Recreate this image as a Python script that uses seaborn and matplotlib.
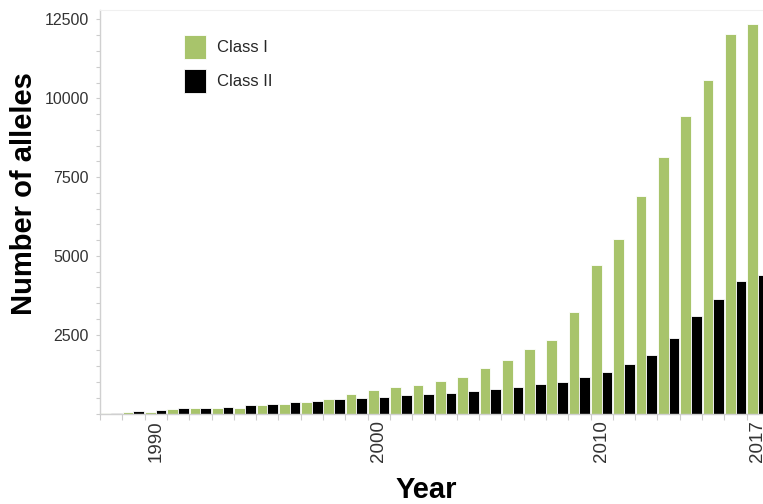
import numpy as np
import pandas as pd
import matplotlib
matplotlib.use("Agg")
import matplotlib.pyplot as plt
from matplotlib.ticker import FixedLocator, MultipleLocator
import seaborn as sns

# Number of registered alleles per year
years = list(range(1988, 2018))
class_i = [8, 63, 63, 137, 159, 180, 190, 254, 317, 360, 470, 620,
           736, 831, 914, 1031, 1168, 1434, 1707, 2037, 2342, 3224,
           4706, 5521, 6905, 8123, 9433, 10576, 12035, 12355]
class_ii = [12, 95, 117, 159, 169, 222, 254, 307, 360, 402, 445, 482,
            524, 577, 609, 660, 714, 768, 841, 926, 1005, 1162,
            1320, 1586, 1850, 2389, 3087, 3637, 4208, 4379]
classes = ["Class I", "Class II"]
colors = ["#a8c46b", "#000000"]
labeled_years = [1990, 2000, 2010, 2017]
y_ticks = [2500, 5000, 7500, 10000, 12500]

df = pd.DataFrame({
    "Year": [str(y) for y in years] * 2,
    "Alleles": class_i + class_ii,
    "Class": [classes[0]] * len(years) + [classes[1]] * len(years),
})

sns.set_style("white")
plt.rcParams["font.family"] = ["Liberation Sans", "DejaVu Sans"]

W, H = 763, 504
fig = plt.figure(figsize=(W / 100, H / 100), dpi=100)
# the plotting area runs past the right edge of the figure
ax = fig.add_axes([100 / W, (H - 413.5) / H, 669 / W, 403.5 / H])

sns.barplot(data=df, x="Year", y="Alleles", hue="Class", hue_order=classes,
            palette=colors, saturation=1, width=0.96, errorbar=None,
            edgecolor="white", linewidth=0.6, ax=ax)

ax.set_xlim(-0.5, len(years) - 0.5)
ax.set_ylim(0, 12800)

# x axis: labels at selected years, small marks between year groups
ax.set_xticks([years.index(y) for y in labeled_years],
              labels=[str(y) for y in labeled_years])
ax.xaxis.set_minor_locator(FixedLocator(np.arange(-0.5, len(years), 1.0)))
ax.tick_params(axis="x", which="major", bottom=True, length=0, pad=5,
               labelsize=13.5, labelcolor="#333333", labelrotation=90)
ax.tick_params(axis="x", which="minor", bottom=True, length=4,
               color="#cccccc", width=0.8)

# y axis
ax.set_yticks(y_ticks, labels=[str(v) for v in y_ticks])
ax.yaxis.set_minor_locator(MultipleLocator(500))
ax.tick_params(axis="y", which="both", left=True, length=3,
               color="#cccccc", width=0.8)
ax.tick_params(axis="y", which="major", labelsize=11.5,
               labelcolor="#333333", pad=5)

for side in ("left", "bottom"):
    ax.spines[side].set_color("#d0d0d0")
    ax.spines[side].set_linewidth(1.0)
ax.spines["top"].set_color("#f0f0f0")
ax.spines["right"].set_visible(False)

ax.set_xlabel("Year", fontsize=21, fontweight="bold", color="black")
ax.xaxis.set_label_coords(0.487, -0.155)
ax.set_ylabel("Number of alleles", fontsize=21, fontweight="bold",
              color="black")
ax.yaxis.set_label_coords(-0.0927, 0.545)

sns.move_legend(ax, "upper left", bbox_to_anchor=(184 / W, 1 - 35 / H),
                bbox_transform=fig.transFigure, title=None, frameon=False,
                fontsize=12, handlelength=1.3, handleheight=1.8,
                handletextpad=0.66, labelspacing=0.62, borderpad=0,
                borderaxespad=0)

fig.savefig("out.png", dpi=100)
